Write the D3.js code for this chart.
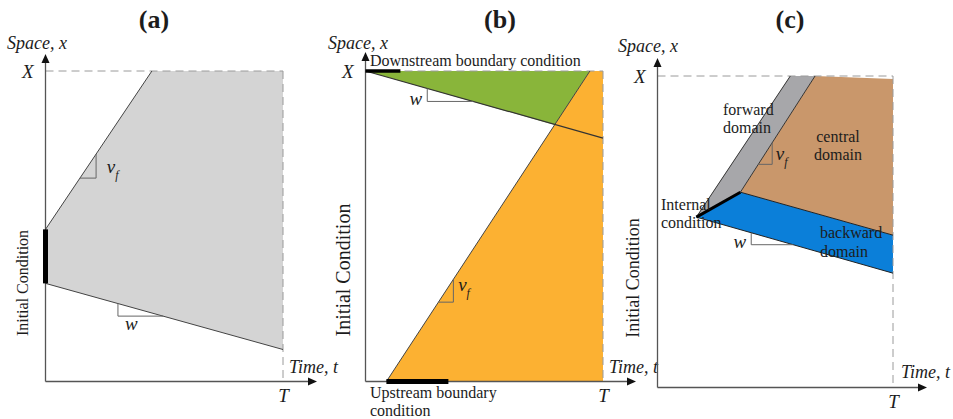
<!DOCTYPE html>
<meta charset="utf-8">
<head>
    <script src="https://cdn.jsdelivr.net/npm/d3@7"></script>
    <style>
        body { margin: 0; background: #fff; }
        svg text { font-family: "Liberation Serif", "Times New Roman", serif; fill: #1c1c1c; }
        .it { font-style: italic; }
    </style>
</head>
<body>
<svg id="fig" width="953" height="419"></svg>

<script>
    // all shapes are in (t, x) units, with T = 1 and X = 1

    // (a) single domain
    const domainA = [[0, 0.49], [0.448, 1], [1, 1], [1, 0.103], [0, 0.316]]
    const fwdA = [[0, 0.49], [0.448, 1]]
    const bwdA = [[0, 0.316], [1, 0.103]]
    const initA = [[0, 0.316], [0, 0.49]]

    // (b) boundary conditions
    const greenB = [[0, 1], [0.945, 1], [0.798, 0.826]]
    const orangeB = [[0.088, 0], [0.945, 1], [1, 1], [1, 0]]
    const fwdB = [[0.088, 0], [0.945, 1]]
    const bwdB = [[0, 1], [1, 0.784]]
    const downB = [[0, 1], [0.147, 1]]
    const upB = [[0.088, 0], [0.349, 0]]

    // (c) internal condition
    const forwardC = [[0.165, 0.547], [0.564, 1], [0.669, 1], [0.352, 0.627]]
    const centralC = [[0.352, 0.627], [0.669, 1], [1, 0.99], [1, 0.489]]
    const backwardC = [[0.165, 0.547], [0.352, 0.627], [1, 0.489], [1, 0.367]]
    const fwdLeftC = [[0.165, 0.547], [0.564, 1]]
    const fwdRightC = [[0.352, 0.627], [0.669, 1]]
    const bwdTopC = [[0.352, 0.627], [1, 0.489]]
    const bwdBotC = [[0.165, 0.547], [1, 0.367]]
    const internalC = [[0.165, 0.547], [0.352, 0.627]]

    // slope markers: [segment, t0, t1, label]
    const slopesA = [[fwdA, 0.145, 0.213, "v"], [bwdA, 0.305, 0.495, "w"]]
    const slopesB = [[fwdB, 0.307, 0.37, "v"], [bwdB, 0.26, 0.454, "w"]]
    const slopesC = [[fwdRightC, 0.428, 0.487, "v"], [bwdBotC, 0.398, 0.576, "w"]]

    const svg = d3.select("#fig")

    function makePanel(left, right, bottom, top) {
        const g = svg.append("g")
        const x = d3.scaleLinear().domain([0, 1]).range([left, right])
        const y = d3.scaleLinear().domain([0, 1]).range([bottom, top])
        return { g, x, y }
    }

    function area(p, pts, color) {
        p.g.append("path")
            .attr("d", d3.line().x(d => p.x(d[0])).y(d => p.y(d[1]))(pts) + "Z")
            .attr("fill", color)
    }

    function seg(p, pts, width, color) {
        p.g.append("path")
            .attr("d", d3.line().x(d => p.x(d[0])).y(d => p.y(d[1]))(pts))
            .attr("fill", "none")
            .attr("stroke", color || "#333")
            .attr("stroke-width", width || 1)
    }

    function at(s, t) {
        const k = (t - s[0][0]) / (s[1][0] - s[0][0])
        return s[0][1] + k * (s[1][1] - s[0][1])
    }

    function slope(p, s, t0, t1) {
        const x0 = at(s, t0), x1 = at(s, t1)
        const corner = x1 > x0 ? [t1, x0] : [t0, x1]
        seg(p, [[t0, x0], corner, [t1, x1]], 1, "#666")
    }

    function frame(p, axisEnd, axisTop) {
        // dashed X and T limits
        p.g.append("line")
            .attr("x1", p.x(0)).attr("x2", p.x(1))
            .attr("y1", p.y(1)).attr("y2", p.y(1))
            .attr("stroke", "#9a9a9a").attr("stroke-dasharray", "8,5")
        p.g.append("line")
            .attr("x1", p.x(1)).attr("x2", p.x(1))
            .attr("y1", p.y(1)).attr("y2", p.y(0))
            .attr("stroke", "#9a9a9a").attr("stroke-dasharray", "8,5")

        // axes with a single tick label each (T and X)
        p.g.append("g")
            .attr("transform", `translate(0, ${p.y(0)})`)
            .call(d3.axisBottom(p.x).tickValues([1]).tickFormat(() => "T").tickSize(0).tickPadding(7))
            .call(a => a.select(".domain").remove())
            .selectAll("text")
            .attr("class", "it").style("font-size", "19px").attr("fill", "#1c1c1c")
        p.g.append("g")
            .attr("transform", `translate(${p.x(0)}, 0)`)
            .call(d3.axisLeft(p.y).tickValues([1]).tickFormat(() => "X").tickSize(0).tickPadding(12))
            .call(a => a.select(".domain").remove())
            .selectAll("text")
            .attr("class", "it").style("font-size", "19px").attr("fill", "#1c1c1c")

        const ox = p.x(0), oy = p.y(0)
        p.g.append("line").attr("x1", ox).attr("x2", axisEnd - 6).attr("y1", oy).attr("y2", oy)
            .attr("stroke", "#555").attr("stroke-width", 1.3)
        p.g.append("line").attr("x1", ox).attr("x2", ox).attr("y1", oy).attr("y2", axisTop + 6)
            .attr("stroke", "#555").attr("stroke-width", 1.3)
        p.g.append("path")
            .attr("d", `M${axisEnd},${oy} L${axisEnd - 9},${oy - 4} L${axisEnd - 9},${oy + 4} Z`)
            .attr("fill", "#111")
        p.g.append("path")
            .attr("d", `M${ox},${axisTop} L${ox - 4},${axisTop + 9} L${ox + 4},${axisTop + 9} Z`)
            .attr("fill", "#111")
    }

    function text(p, x, y, str, size, cls, anchor) {
        return p.g.append("text")
            .attr("x", x).attr("y", y)
            .attr("class", cls || null)
            .attr("text-anchor", anchor || "start")
            .style("font-size", size + "px")
            .text(str)
    }

    function vf(p, x, y) {
        const t = p.g.append("text").attr("x", x).attr("y", y).attr("class", "it").style("font-size", "19px")
        t.append("tspan").text("v")
        t.append("tspan").attr("dy", 6).style("font-size", "12px").text("f")
    }

    function rotated(p, cx, cy, str, size) {
        p.g.append("text")
            .attr("transform", `translate(${cx}, ${cy}) rotate(-90)`)
            .attr("text-anchor", "middle")
            .attr("dy", "0.35em")
            .style("font-size", size + "px")
            .text(str)
    }

    // ---------- (a) ----------
    const pa = makePanel(45.5, 283, 381.5, 71)
    area(pa, domainA, "#d4d4d4")
    frame(pa, 317, 54)
    seg(pa, fwdA, 1, "#444")
    seg(pa, bwdA, 1, "#444")
    seg(pa, initA, 5, "#000")
    slopesA.forEach(s => slope(pa, s[0], s[1], s[2]))
    text(pa, 154, 28, "(a)", 26, null, "middle").style("font-weight", "bold")
    text(pa, 7, 49, "Space, x", 18, "it")
    text(pa, 289, 373, "Time, t", 18, "it")
    rotated(pa, 22, 283, "Initial Condition", 16)
    vf(pa, pa.x(0.258), pa.y(0.672))
    text(pa, pa.x(0.335), pa.y(0.165), "w", 19, "it")

    // ---------- (b) ----------
    const pb = makePanel(365.5, 603, 381.5, 71)
    area(pb, greenB, "#89b53a")
    area(pb, orangeB, "#fcb132")
    frame(pb, 636, 52)
    seg(pb, fwdB, 1, "#444")
    seg(pb, bwdB, 1.2, "#333")
    seg(pb, downB, 3.5, "#000")
    seg(pb, upB, 5, "#000")
    slopesB.forEach(s => slope(pb, s[0], s[1], s[2]))
    text(pb, 500, 28, "(b)", 26, null, "middle").style("font-weight", "bold")
    text(pb, 328, 49, "Space, x", 18, "it")
    text(pb, 609, 373, "Time, t", 18, "it")
    text(pb, 370, 66, "Downstream boundary condition", 16)
    text(pb, 370, 398, "Upstream boundary", 16)
    text(pb, 370, 416, "condition", 16)
    rotated(pb, 343, 270, "Initial Condition", 20)
    vf(pb, pb.x(0.39), pb.y(0.29))
    text(pb, pb.x(0.185), pb.y(0.89), "w", 19, "it")

    // ---------- (c) ----------
    const pc = makePanel(657.5, 893, 387.5, 76)
    area(pc, forwardC, "#a7a7aa")
    area(pc, centralC, "#c9976b")
    area(pc, backwardC, "#0b7fd9")
    frame(pc, 927, 58)
    seg(pc, fwdLeftC, 1, "#333")
    seg(pc, fwdRightC, 1, "#333")
    seg(pc, bwdTopC, 1, "#222")
    seg(pc, bwdBotC, 1, "#222")
    seg(pc, internalC, 3, "#000")
    slopesC.forEach(s => slope(pc, s[0], s[1], s[2]))
    text(pc, 790, 28, "(c)", 26, null, "middle").style("font-weight", "bold")
    text(pc, 618, 52, "Space, x", 18, "it")
    text(pc, 901, 378, "Time, t", 18, "it")
    rotated(pc, 633, 278, "Initial Condition", 18)
    text(pc, 723, 115, "forward", 16)
    text(pc, 723, 133, "domain", 16)
    text(pc, 838, 142, "central", 16, null, "middle")
    text(pc, 838, 160, "domain", 16, null, "middle")
    text(pc, 820, 238, "backward", 16)
    text(pc, 820, 257, "domain", 16)
    text(pc, 661, 210, "Internal", 16)
    text(pc, 661, 228, "condition", 16)
    vf(pc, pc.x(0.502), pc.y(0.73))
    text(pc, pc.x(0.323), pc.y(0.448), "w", 19, "it")
</script>
</body>
